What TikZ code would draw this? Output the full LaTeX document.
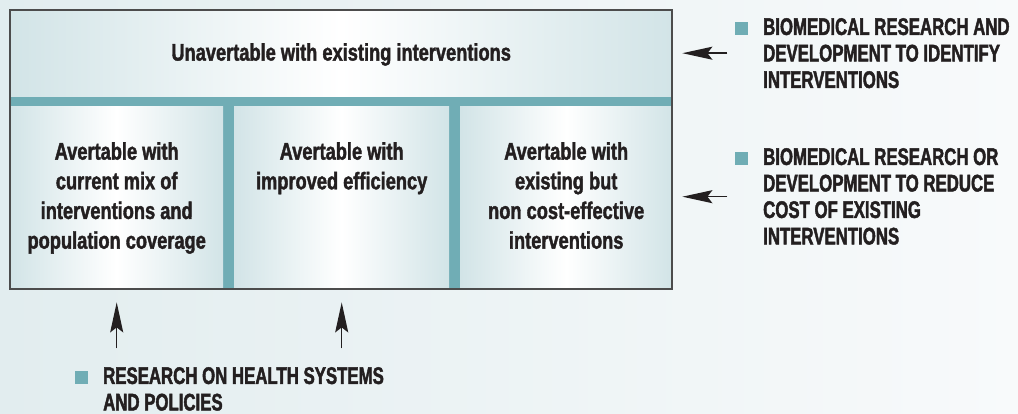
\documentclass[tikz,border=0pt]{standalone}
\usepackage{fontspec}
\usetikzlibrary{positioning,arrows.meta}
\newfontfamily\cellfont[FakeStretch=0.76,FakeBold=1.6]{Liberation Sans Bold}
\newfontfamily\legendfont[FakeStretch=0.70,FakeBold=1.8]{Liberation Sans Bold}
\definecolor{bgleft}{HTML}{E2EDEF}
\definecolor{bgright}{HTML}{F8FAFB}
\definecolor{bandteal}{HTML}{70ADB5}
\definecolor{celledge}{HTML}{D2E4E7}
\definecolor{ink}{HTML}{231F20}

\begin{document}
\begin{tikzpicture}[x=1pt,y=-1pt]

\tikzset{cell/.style={rectangle,inner sep=0pt,anchor=north west,left color=celledge,right color=celledge,middle color=white},
	celltext/.style={anchor=north,inner sep=0pt,align=center,text=ink,font=\cellfont\fontsize{24}{29.7}\selectfont},
	legtext/.style={anchor=north west,inner sep=0pt,align=left,text=ink,font=\legendfont\fontsize{24}{26.5}\selectfont},
	bullet/.style={rectangle,fill=bandteal,inner sep=0pt,minimum size=12.5pt,anchor=south west},
	pointer/.style={-{Stealth[length=30pt,width=13pt,inset=5pt]},line width=1.4pt,ink}}

\useasboundingbox (0,0) rectangle (1018,414);
\shade[left color=bgleft,right color=bgright] (0,0) rectangle (1018,414);

%===================================================================
\fill[bandteal] (10,10) rectangle (672,289);
\node[cell,minimum width=662pt,minimum height=86pt] (top) at (10,10) {};
\node[cell,minimum width=213pt,minimum height=183pt] (c1) at (10,106) {};
\node[cell,minimum width=215pt,minimum height=183pt] (c2) at (234,106) {};
\node[cell,minimum width=212pt,minimum height=183pt] (c3) at (460,106) {};
\draw[line width=1.8pt,black!70] (10,10) rectangle (672,289);

\node[celltext,yshift=-33pt] (toptxt) at (top.north) {Unavertable with existing interventions};
\node[celltext,yshift=-36pt] (c1txt) at (c1.north) {Avertable with\\current mix of\\interventions and\\population coverage};
\node[celltext,yshift=-36pt] (c2txt) at (c2.north) {Avertable with\\improved efficiency};
\node[celltext,yshift=-36pt] (c3txt) at (c3.north) {Avertable with\\existing but\\non cost-effective\\interventions};

%===================================================================
\node[legtext] (leg1) at (763,18) {BIOMEDICAL RESEARCH AND\\DEVELOPMENT TO IDENTIFY\\INTERVENTIONS};
\node[bullet,xshift=-28pt,yshift=-17pt] (sq1) at (leg1.north west) {};
\node[legtext] (leg2) at (763,148) {BIOMEDICAL RESEARCH OR\\DEVELOPMENT TO REDUCE\\COST OF EXISTING\\INTERVENTIONS};
\node[bullet,xshift=-28pt,yshift=-17pt] (sq2) at (leg2.north west) {};
\node[legtext] (leg3) at (103,367) {RESEARCH ON HEALTH SYSTEMS\\AND POLICIES};
\node[bullet,xshift=-28pt,yshift=-17pt] (sq3) at (leg3.north west) {};

\coordinate (a1s) at ([xshift=55pt]top.east);
\coordinate (a1e) at ([xshift=10pt]top.east);
\coordinate (a2s) at ([xshift=55pt,yshift=1pt]c3.east);
\coordinate (a2e) at ([xshift=10pt,yshift=1pt]c3.east);
\coordinate (a3s) at ([yshift=-59pt]c1.south);
\coordinate (a3e) at ([yshift=-13pt]c1.south);
\coordinate (a4s) at ([yshift=-59pt]c2.south);
\coordinate (a4e) at ([yshift=-13pt]c2.south);
\draw[pointer] (a1s)--(a1e);
\draw[pointer] (a2s)--(a2e);
\draw[pointer] (a3s)--(a3e);
\draw[pointer] (a4s)--(a4e);

\end{tikzpicture}
\end{document}
